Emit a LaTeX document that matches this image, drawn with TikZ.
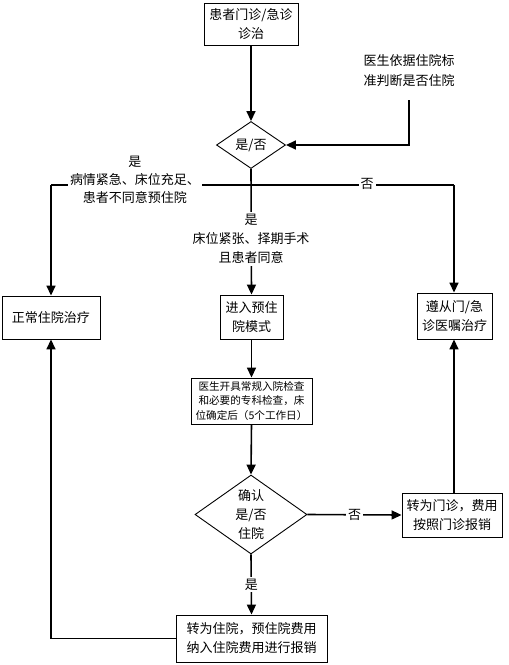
\documentclass[tikz,border=0pt]{standalone}
\usepackage{fontspec}
\newfontfamily\cjk{Noto Sans CJK SC}
\usetikzlibrary{shapes.geometric,arrows.meta}
\begin{document}
\begin{tikzpicture}[x=1pt,y=-1pt,
  txt/.style={font=\cjk\fontsize{13}{19}\selectfont, align=center, inner sep=0pt},
  box/.style={txt, draw, line width=0.9pt, rectangle},
  dia/.style={txt, draw, line width=0.9pt, diamond},
  conn/.style={line width=1.6pt, -{Triangle[length=10pt,width=9pt]}},
  plain/.style={line width=1.6pt},
  lbl/.style={txt, fill=white, inner sep=2pt}]
\useasboundingbox (0,0) rectangle (509,665);
\node[box, minimum width=94pt, minimum height=42pt] (b1) at (251,24) {患者门诊/急诊\\诊治};
\node[txt, font=\cjk\fontsize{13}{20}\selectfont] (note) at (409,71) {医生依据住院标\\准判断是否住院};
\coordinate (nt) at (409,100);
\node[dia, shape aspect=1.47, minimum width=69pt, minimum height=47pt] (d1) at (251,145) {是/否};
\node[box, minimum width=98pt, minimum height=43pt] (bL) at (51,317.5) {正常住院治疗};
\node[box, minimum width=63pt, minimum height=44pt] (b2) at (251.5,317) {进入预住\\院模式};
\node[box, minimum width=75pt, minimum height=46pt] (bR) at (454.5,316) {遵从门/急\\诊医嘱治疗};
\node[box, minimum width=121pt, minimum height=46pt, font=\cjk\fontsize{10.6}{14.5}\selectfont] (b3) at (251.5,401) {医生开具常规入院检查\\和必要的专科检查，床\\位确定后（5个工作日）};
\node[dia, shape aspect=1.42, minimum width=112pt, minimum height=79pt] (d2) at (251,514.5) {确认\\是/否\\住院};
\node[box, minimum width=100pt, minimum height=44pt] (bN) at (452,515) {转为门诊，费用\\按照门诊报销};
\node[box, minimum width=151pt, minimum height=47pt] (bF) at (251.5,638.5) {转为住院，预住院费用\\纳入住院费用进行报销};
\coordinate (j) at (251,185);
\coordinate (jl) at (51,185);
\coordinate (jr) at (454,185);
% connectors
\draw[conn] (b1.south) -- (d1.north);
\draw[conn] (nt) |- (d1.east);
\draw[conn] (d1.south) -- (b2.north);
\draw[plain] (j) -- (jl);
\draw[conn] (jl) -- (jl |- bL.north);
\draw[plain] (j) -- (jr);
\draw[conn] (jr) -- (jr |- bR.north);
\node[lbl, font=\cjk\fontsize{13}{18}\selectfont] (lL) at (135,180) {是\\病情紧急、床位充足、\\患者不同意预住院};
\node[lbl] (lR) at (367,184) {否};
\node[lbl] (lM) at (251,239) {是\\床位紧张、择期手术\\且患者同意};
\draw[conn] (b2.south) -- (b3.north);
\draw[conn] (b3.south) -- (d2.north);
\draw[conn] (d2.east) -- node[lbl] {否} (bN.west);
\draw[conn] (jr |- bN.north) -- (jr |- bR.south);
\draw[conn] (d2.south) -- node[lbl] {是} (bF.north);
\draw[conn] (bF.west) -| (jl |- bL.south);
\end{tikzpicture}
\end{document}
